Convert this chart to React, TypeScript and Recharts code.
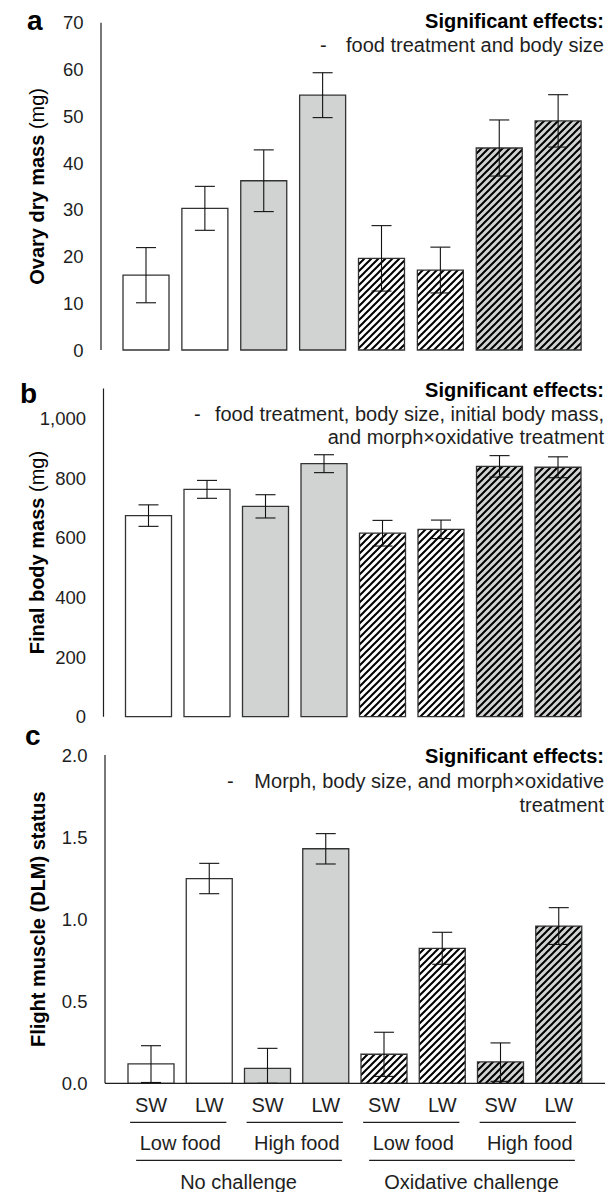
import React from 'react';
import { BarChart, Bar, XAxis, YAxis, Cell, ErrorBar } from 'recharts';

// Categories along the x axis
const morphs = ['SW', 'LW', 'SW', 'LW', 'SW', 'LW', 'SW', 'LW'];
const foodLevels = ['Low food', 'High food', 'Low food', 'High food'];
const challenges = ['No challenge', 'Oxidative challenge'];
const barStyles = ['open', 'open', 'gray', 'gray', 'hatchOpen', 'hatchOpen', 'hatchGray', 'hatchGray'];

// (a) ovary dry mass, mg
const ovaryMass = [16.0, 30.3, 36.2, 54.5, 19.6, 17.1, 43.2, 49.0];
const ovaryErr = [5.9, 4.7, 6.6, 4.8, 7.0, 4.9, 6.0, 5.6];
const ovaryTicks = [0, 10, 20, 30, 40, 50, 60, 70];

// (b) final body mass, mg
const bodyMass = [674, 762, 705, 848, 615, 628, 839, 836];
const bodyErr = [36, 30, 39, 30, 43, 31, 36, 35];
const bodyTicks = [0, 200, 400, 600, 800, 1000];

// (c) flight muscle (DLM) status
const dlmStatus = [0.118, 1.247, 0.091, 1.429, 0.177, 0.822, 0.13, 0.958];
const dlmErrLow = [0.113, 0.092, 0.091, 0.093, 0.135, 0.097, 0.118, 0.112];
const dlmErrHigh = [0.111, 0.093, 0.122, 0.092, 0.134, 0.098, 0.116, 0.112];
const dlmTicks = [0, 0.5, 1, 1.5, 2];

const GRAY = '#d1d3d2';
const INK = '#1e1e1e';
const FONT = '"Liberation Sans", Arial, sans-serif';
const TEXT_SIZE = 20;

const fillFor: Record<string, string> = {
  open: '#ffffff',
  gray: GRAY,
  hatchOpen: 'url(#hatchOpen)',
  hatchGray: 'url(#hatchGray)',
};

type Row = { id: number; value: number; err: number | [number, number] };

const buildRows = (values: number[], errs: (number | [number, number])[]): Row[] =>
  values.map((v, i) => ({ id: i, value: v, err: errs[i] }));

const ovaryRows = buildRows(ovaryMass, ovaryErr);
const bodyRows = buildRows(bodyMass, bodyErr);
const dlmRows = buildRows(
  dlmStatus,
  dlmErrLow.map((lo, i) => [lo, dlmErrHigh[i]] as [number, number])
);

const Y_AXIS_W = 60;

type Geometry = {
  top: number; // page y of the chart box
  height: number;
  plotLeft: number;
  plotRight: number;
  plotTop: number; // relative to chart box
  plotBottom: number;
  padL: number;
  padR: number;
  xAxisH: number;
};

type Annotation = { lines: string[]; baselines: number[]; dashX: number };

type PanelProps = {
  letter: string;
  letterPos: [number, number];
  rows: Row[];
  domain: [number, number];
  ticks: number[];
  tickFormat: (v: number) => string;
  labelBold: string;
  labelUnit?: string;
  labelX: number;
  geo: Geometry;
  note: Annotation;
  groupTicks?: boolean;
};

const HatchDefs = () => (
  <svg width={0} height={0} style={{ position: 'absolute' }}>
    <defs>
      {[
        ['hatchOpen', '#ffffff'],
        ['hatchGray', GRAY],
      ].map(([id, bg]) => (
        <pattern key={id} id={id} patternUnits="userSpaceOnUse" width={7} height={7}>
          <rect width={7} height={7} fill={bg} />
          <path d="M-1,1 L1,-1 M0,7 L7,0 M6,8 L8,6" stroke="#000" strokeWidth={2} />
        </pattern>
      ))}
    </defs>
  </svg>
);

const makeGroupTick = (band: number) => (props: any) => {
  const { x, y, payload } = props;
  const i = Number(payload.value);
  const isRight = i % 2 === 1;
  const pair = Math.floor(i / 2);
  return (
    <g>
      <text x={x} y={y + 29} textAnchor="middle" fontSize={TEXT_SIZE} fill={INK}>
        {morphs[i]}
      </text>
      {isRight && (
        <>
          <line x1={x - band - 21} x2={x + 17} y1={y + 39} y2={y + 39} stroke={INK} strokeWidth={1.2} />
          <text x={x - band / 2} y={y + 67} textAnchor="middle" fontSize={TEXT_SIZE} fill={INK}>
            {foodLevels[pair]}
          </text>
        </>
      )}
      {i % 4 === 3 && (
        <>
          <line x1={x - 3 * band - 15} x2={x + 16} y1={y + 77} y2={y + 77} stroke={INK} strokeWidth={1.2} />
          <text x={x - 1.5 * band} y={y + 106} textAnchor="middle" fontSize={TEXT_SIZE} fill={INK}>
            {challenges[Math.floor(i / 4)]}
          </text>
        </>
      )}
    </g>
  );
};

const Panel = ({
  letter,
  letterPos,
  rows,
  domain,
  ticks,
  tickFormat,
  labelBold,
  labelUnit,
  labelX,
  geo,
  note,
  groupTicks,
}: PanelProps) => {
  const margin = {
    top: geo.plotTop,
    right: 614 - geo.plotRight,
    left: geo.plotLeft - Y_AXIS_W,
    bottom: geo.height - geo.plotBottom - geo.xAxisH,
  };
  const band = (geo.plotRight - geo.plotLeft - geo.padL - geo.padR) / rows.length;
  const labelY = (geo.plotTop + geo.plotBottom) / 2;

  return (
    <div style={{ position: 'absolute', left: 0, top: geo.top, width: 614, height: geo.height }}>
      <BarChart width={614} height={geo.height} data={rows} margin={margin} barSize={46}>
        <XAxis
          dataKey="id"
          type="category"
          height={geo.xAxisH}
          padding={{ left: geo.padL, right: geo.padR }}
          axisLine={{ stroke: INK, strokeWidth: 1.2 }}
          tickLine={false}
          tickSize={0}
          tickMargin={0}
          interval={0}
          tick={groupTicks ? makeGroupTick(band) : false}
        />
        <YAxis
          type="number"
          width={Y_AXIS_W}
          domain={domain}
          ticks={ticks}
          interval={0}
          tickFormatter={tickFormat}
          axisLine={{ stroke: INK, strokeWidth: 1.2 }}
          tickLine={false}
          tickSize={0}
          tickMargin={17.5}
          tick={{ fontSize: 18.5, fill: INK }}
        />
        <Bar dataKey="value" isAnimationActive={false} stroke="#333" strokeWidth={1.3}>
          {rows.map((r) => (
            <Cell key={r.id} fill={fillFor[barStyles[r.id]]} />
          ))}
          <ErrorBar dataKey="err" width={10} stroke="#111" strokeWidth={1.1} isAnimationActive={false} />
        </Bar>
      </BarChart>
      <svg
        width={614}
        height={geo.height}
        style={{ position: 'absolute', left: 0, top: 0, pointerEvents: 'none' }}
      >
        <text x={letterPos[0]} y={letterPos[1]} fontSize={28} fontWeight="bold" fill="#000">
          {letter}
        </text>
        <text
          transform={`translate(${labelX}, ${labelY}) rotate(-90)`}
          textAnchor="middle"
          dy="0.35em"
          fontSize={TEXT_SIZE}
          fill="#000"
        >
          <tspan fontWeight="bold">{labelBold}</tspan>
          {labelUnit && <tspan>{' ' + labelUnit}</tspan>}
        </text>
        <text
          x={604}
          y={note.baselines[0]}
          textAnchor="end"
          fontSize={TEXT_SIZE}
          fontWeight="bold"
          fill="#000"
        >
          Significant effects:
        </text>
        <text x={note.dashX} y={note.baselines[1]} fontSize={TEXT_SIZE} fill={INK}>
          -
        </text>
        {note.lines.map((line, k) => (
          <text
            key={k}
            x={604}
            y={note.baselines[k + 1]}
            textAnchor="end"
            fontSize={TEXT_SIZE}
            fill={INK}
          >
            {line}
          </text>
        ))}
      </svg>
    </div>
  );
};

export default function App() {
  return (
    <div
      style={{
        position: 'absolute',
        left: 0,
        top: 0,
        width: 614,
        height: 1192,
        background: '#fff',
        fontFamily: FONT,
        overflow: 'hidden',
      }}
    >
      <HatchDefs />
      <Panel
        letter="a"
        letterPos={[27, 30]}
        rows={ovaryRows}
        domain={[0, 70]}
        ticks={ovaryTicks}
        tickFormat={(v) => String(v)}
        labelBold="Ovary dry mass"
        labelUnit="(mg)"
        labelX={37}
        geo={{
          top: 0,
          height: 360,
          plotLeft: 101,
          plotRight: 605,
          plotTop: 22.7,
          plotBottom: 350,
          padL: 16,
          padR: 17,
          xAxisH: 0,
        }}
        note={{ lines: ['food treatment and body size'], baselines: [28, 52], dashX: 320 }}
      />
      <Panel
        letter="b"
        letterPos={[20, 43]}
        rows={bodyRows}
        domain={[0, 1100]}
        ticks={bodyTicks}
        tickFormat={(v) => v.toLocaleString('en-US')}
        labelBold="Final body mass"
        labelUnit="(mg)"
        labelX={37}
        geo={{
          top: 360,
          height: 370,
          plotLeft: 103.5,
          plotRight: 603.5,
          plotTop: 28.5,
          plotBottom: 356.7,
          padL: 16,
          padR: 16,
          xAxisH: 0,
        }}
        note={{
          lines: ['food treatment, body size, initial body mass,', 'and morph×oxidative treatment'],
          baselines: [37, 61, 84],
          dashX: 194,
        }}
      />
      <Panel
        letter="c"
        letterPos={[25, 30]}
        rows={dlmRows}
        domain={[0, 2]}
        ticks={dlmTicks}
        tickFormat={(v) => v.toFixed(1)}
        labelBold="Flight muscle (DLM) status"
        labelX={38}
        geo={{
          top: 715,
          height: 477,
          plotLeft: 105,
          plotRight: 605,
          plotTop: 40,
          plotBottom: 368.3,
          padL: 17,
          padR: 17,
          xAxisH: 100,
        }}
        note={{
          lines: ['Morph, body size, and morph×oxidative', 'treatment'],
          baselines: [48, 73, 97],
          dashX: 227,
        }}
        groupTicks
      />
    </div>
  );
}
